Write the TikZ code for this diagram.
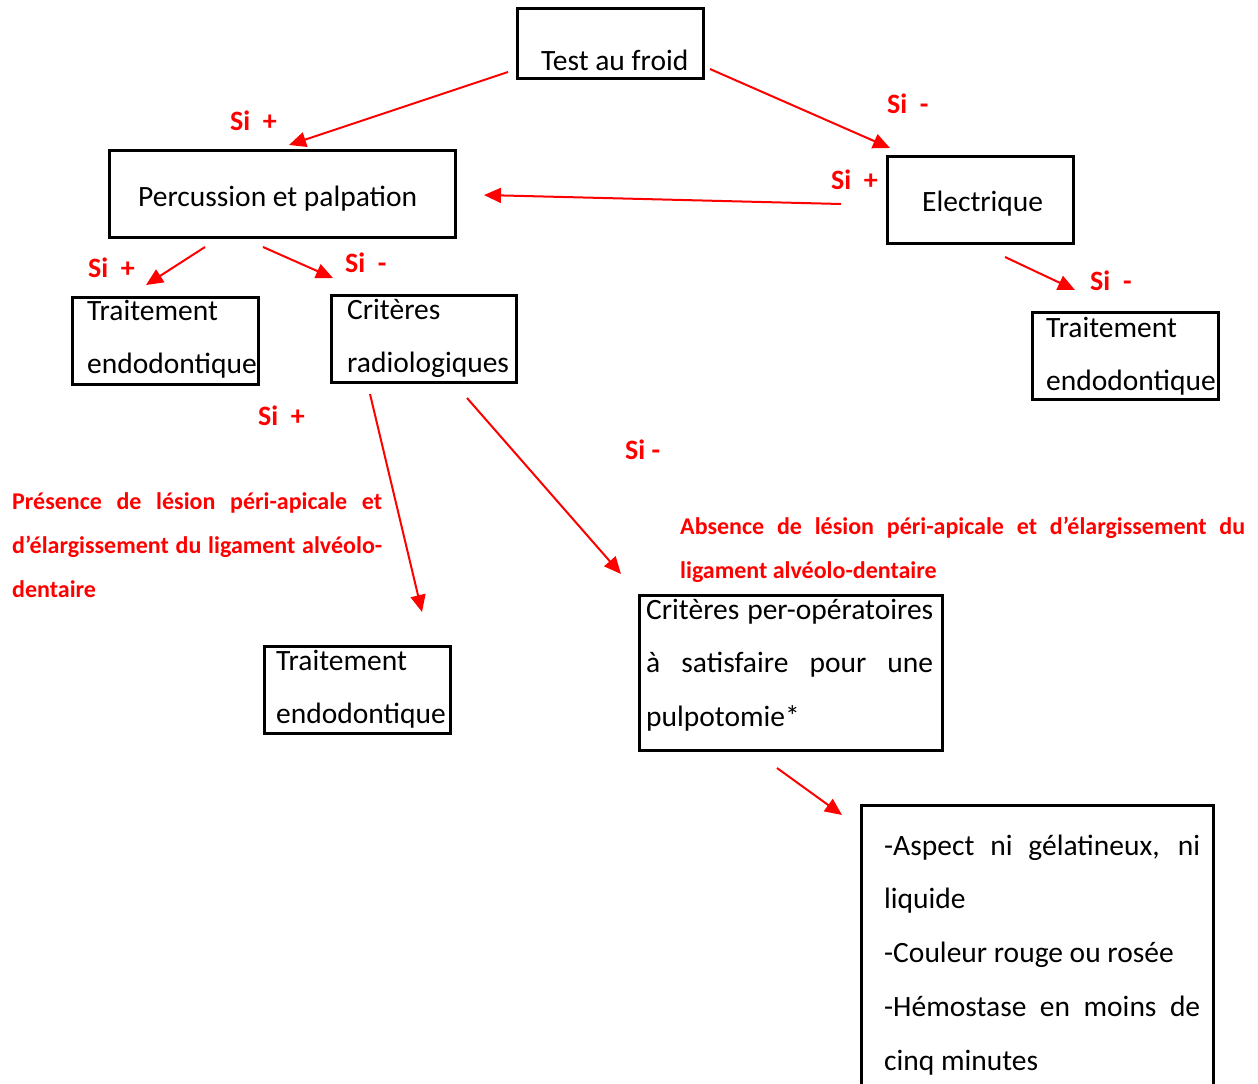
\documentclass[tikz,border=0pt]{standalone}
\usepackage{fontspec}
\setmainfont{Carlito}
\usetikzlibrary{arrows.meta}
\definecolor{rd}{RGB}{255,0,0}
\tikzset{
  box/.style={draw=black, line width=2.5pt, rectangle, inner sep=0pt, anchor=north west},
  txt/.style={anchor=base west, inner sep=0pt, font=\fontsize{29.5}{53.7}\selectfont},
  ml/.style={anchor=north west, inner sep=0pt, font=\fontsize{29.5}{53.7}\selectfont, execute at begin node={\hyphenpenalty=10000\relax}},
  si/.style={anchor=base west, inner sep=0pt, text=rd, font=\bfseries\fontsize{28}{34}\selectfont},
  redpara/.style={anchor=north west, inner sep=0pt, align=justify, text=rd, font=\bfseries\fontsize{24}{44}\selectfont, execute at begin node={\hyphenpenalty=10000\relax}},
  arr/.style={draw=rd, line width=2pt, -{Triangle[length=17pt,width=15pt]}},
}
\begin{document}
\begin{tikzpicture}[x=1pt,y=-1pt]
\useasboundingbox (0,0) rectangle (1258,1084);
\path[clip] (0,0) rectangle (1258,1084);

% boxes
\node[box, minimum width=186, minimum height=70] (froid) at (516,7) {};
\node[box, minimum width=346, minimum height=87] (perc) at (108,149) {};
\node[box, minimum width=186, minimum height=87] (elec) at (886,155) {};
\node[box, minimum width=186, minimum height=87] (trt1) at (71,296) {};
\node[box, minimum width=185, minimum height=87] (crit) at (330,294) {};
\node[box, minimum width=186, minimum height=87] (trt2) at (1031,311) {};
\node[box, minimum width=186, minimum height=87] (trt3) at (263,645) {};
\node[box, minimum width=303, minimum height=155] (perop) at (638,594) {};
\node[box, minimum width=352, minimum height=300] (aspect) at (860,804) {};

% box texts
\node[txt] (froidT) at (541,70) {Test au froid};
\node[txt] (percT) at (138,206) {Percussion et palpation};
\node[txt] (elecT) at (922,211) {Electrique};
\node[ml, text width=180, align=left] (trt1T) at (87,{320-37.59}) {\strut Traitement\\endodontique};
\node[ml, text width=180, align=left] (critT) at (347,{319-37.59}) {\strut Critères\\radiologiques};
\node[ml, text width=180, align=left] (trt2T) at (1046,{337-37.59}) {\strut Traitement\\endodontique};
\node[ml, text width=180, align=left] (trt3T) at (276,{670-37.59}) {\strut Traitement\\endodontique};
\node[ml, text width=287, align=justify] (peropT) at (646,{619-37.59}) {\strut Critères per-opératoires\linebreak à satisfaire pour une\linebreak pulpotomie*};
\node[ml, text width=316, align=justify] (aspectT) at (884,{855-37.59}) {\strut -Aspect ni gélatineux, ni\linebreak liquide\\-Couleur rouge ou rosée\\-Hémostase en moins de\linebreak cinq minutes};

% red paragraphs
\node[redpara, text width=370] (pres) at (12,{509.5-30.8}) {\strut Présence de lésion péri-apicale et\linebreak d’élargissement du ligament alvéolo-\linebreak dentaire};
\node[redpara, text width=565] (abs) at (680,{534-30.8}) {\strut Absence de lésion péri-apicale et d’élargissement du\linebreak ligament alvéolo-dentaire};

% Si labels
\node[si] (s1) at (230,130) {Si\ \ +};
\node[si] (s2) at (887,113) {Si\ \ -};
\node[si] (s3) at (831,189) {Si\ \ +};
\node[si] (s4) at (88,277) {Si\ \ +};
\node[si] (s5) at (345,272) {Si\ \ -};
\node[si] (s6) at (1090,290) {Si\ \ -};
\node[si] (s7) at (258,425) {Si\ \ +};
\node[si] (s8) at (625,459) {Si -};

% arrow end points
\coordinate (a1s) at (508,72);  \coordinate (a1e) at (289,145);
\coordinate (a2s) at (710,69);  \coordinate (a2e) at (890,148);
\coordinate (a3s) at (841,204); \coordinate (a3e) at (484,195);
\coordinate (a4s) at (205,247); \coordinate (a4e) at (146,285);
\coordinate (a5s) at (263,247); \coordinate (a5e) at (333,278);
\coordinate (a6s) at (1005,257); \coordinate (a6e) at (1075,290);
\coordinate (a7s) at (370,394); \coordinate (a7e) at (422,612);
\coordinate (a8s) at (467,398); \coordinate (a8e) at (621,574);
\coordinate (a9s) at (777,768); \coordinate (a9e) at (842,815);

\draw[arr] (a1s) -- (a1e);
\draw[arr] (a2s) -- (a2e);
\draw[arr] (a3s) -- (a3e);
\draw[arr] (a4s) -- (a4e);
\draw[arr] (a5s) -- (a5e);
\draw[arr] (a6s) -- (a6e);
\draw[arr] (a7s) -- (a7e);
\draw[arr] (a8s) -- (a8e);
\draw[arr] (a9s) -- (a9e);
\end{tikzpicture}
\end{document}
